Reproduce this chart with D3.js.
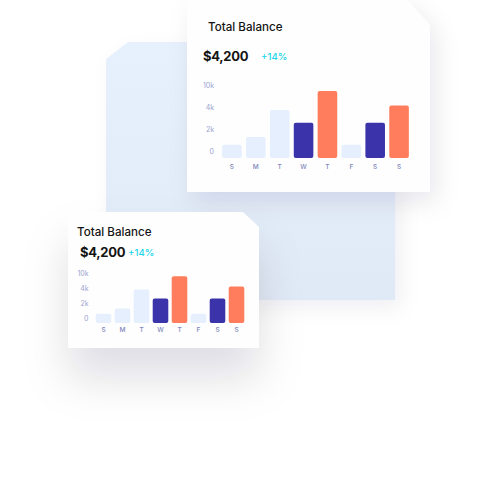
<!DOCTYPE html>
<html><head><meta charset="utf-8">
<script src="https://cdn.jsdelivr.net/npm/d3@7"></script>
<style>html,body{margin:0;padding:0;background:#fff;overflow:hidden}</style>
</head><body><svg id="c" width="497" height="500"></svg>
<script>
// ---- data ----
const days = ["S","M","T","W","T","F","S","S"];
const balances = [1200,1900,5100,3200,10300,1200,3200,6300];
const barKinds = ["light","light","light","dark","orange","light","dark","orange"];
const tickValues = [0,2000,4000,10000];
const tickLabels = ["0","2k","4k","10k"];
const titleText = "Total Balance";
const amountText = "$4,200";
const changeText = "+14%";

const colors = {light:"#e5effd", dark:"#3a33aa", orange:"#ff7d5c"};

const svg = d3.select("#c");
const defs = svg.append("defs");

const g1 = defs.append("linearGradient").attr("id","panelGrad").attr("x1",0).attr("y1",0).attr("x2",0).attr("y2",1);
g1.append("stop").attr("offset","0%").attr("stop-color","#e7f0fd");
g1.append("stop").attr("offset","100%").attr("stop-color","#e0e9f6");

function shadow(id, dx, dy, sd, op){
  const f = defs.append("filter").attr("id",id).attr("x","-50%").attr("y","-50%").attr("width","200%").attr("height","240%");
  f.append("feDropShadow").attr("dx",dx).attr("dy",dy).attr("stdDeviation",sd)
   .attr("flood-color","#1a1f3a").attr("flood-opacity",op);
}
shadow("sPanel",6,8,10,0.06);
shadow("sTop",6,10,12,0.09);
shadow("sBot",0,30,22,0.13);

// background panel with chamfered top-left corner
svg.append("path")
  .attr("d", d3.line()([[106,59],[128,42],[395,42],[395,300],[106,300]]) + "Z")
  .attr("fill","url(#panelGrad)")
  .attr("filter","url(#sPanel)");

function card(cfg){
  const g = svg.append("g");
  const {x0,y0,x1,y1,cx,cy} = cfg;
  g.append("path")
    .attr("d", d3.line()([[x0,y0],[x1-cx,y0],[x1,y0+cy],[x1,y1],[x0,y1]]) + "Z")
    .attr("fill","#fefefe")
    .attr("filter",`url(#${cfg.shadow})`);

  g.append("text").attr("x",cfg.titleX).attr("y",cfg.titleY)
    .attr("font-family","Inter, sans-serif").attr("font-size",11.6).attr("font-weight",500)
    .attr("fill","#141414").text(titleText);
  g.append("text").attr("x",cfg.amtX).attr("y",cfg.amtY)
    .attr("font-family","Inter, sans-serif").attr("font-size",13).attr("font-weight",700)
    .attr("letter-spacing",-0.3)
    .attr("fill","#141414").text(amountText);
  g.append("text").attr("x",cfg.chgX).attr("y",cfg.chgY)
    .attr("font-family","Inter, sans-serif").attr("font-size",9.6).attr("font-weight",500)
    .attr("fill","#22d6ea").text(changeText);

  const x = d3.scaleBand().domain(d3.range(days.length)).range(cfg.xRange)
    .paddingInner(0.18).paddingOuter(0.09);
  const y = d3.scaleLinear().domain(tickValues)
    .range(tickValues.map((_,i)=>cfg.base - i*cfg.step));

  g.selectAll("rect.bar").data(balances).join("rect").attr("class","bar")
    .attr("x",(d,i)=>x(i)).attr("width",x.bandwidth())
    .attr("y",d=>y(d)).attr("height",d=>cfg.base - y(d))
    .attr("rx",2).attr("fill",(d,i)=>colors[barKinds[i]]);

  g.selectAll("text.yt").data(tickValues).join("text").attr("class","yt")
    .attr("x",cfg.tickX).attr("y",d=>y(d)-cfg.tickOff)
    .attr("dy","0.35em").attr("text-anchor","end")
    .attr("font-family","Inter, sans-serif").attr("font-size",7).attr("fill","#9ca4d2")
    .text((d,i)=>tickLabels[i]);

  g.selectAll("text.xt").data(days).join("text").attr("class","xt")
    .attr("x",(d,i)=>x(i)+x.bandwidth()/2).attr("y",cfg.xLabY)
    .attr("text-anchor","middle")
    .attr("font-family","Inter, sans-serif").attr("font-size",6.5).attr("font-weight",500).attr("fill","#7d86bb")
    .text(d=>d);
}

card({x0:187,y0:-2,x1:430,y1:192,cx:25,cy:27,shadow:"sTop",
  titleX:208,titleY:31,amtX:203,amtY:61,chgX:261,chgY:60,
  xRange:[220,411],base:158,step:22,tickX:214,tickOff:6,xLabY:169});

card({x0:68,y0:212,x1:259,y1:348,cx:16,cy:15,shadow:"sBot",
  titleX:77,titleY:236,amtX:80,amtY:257,chgX:128,chgY:256,
  xRange:[94,246],base:323,step:15.3,tickX:88.5,tickOff:4,xLabY:332});
</script>
</body></html>
